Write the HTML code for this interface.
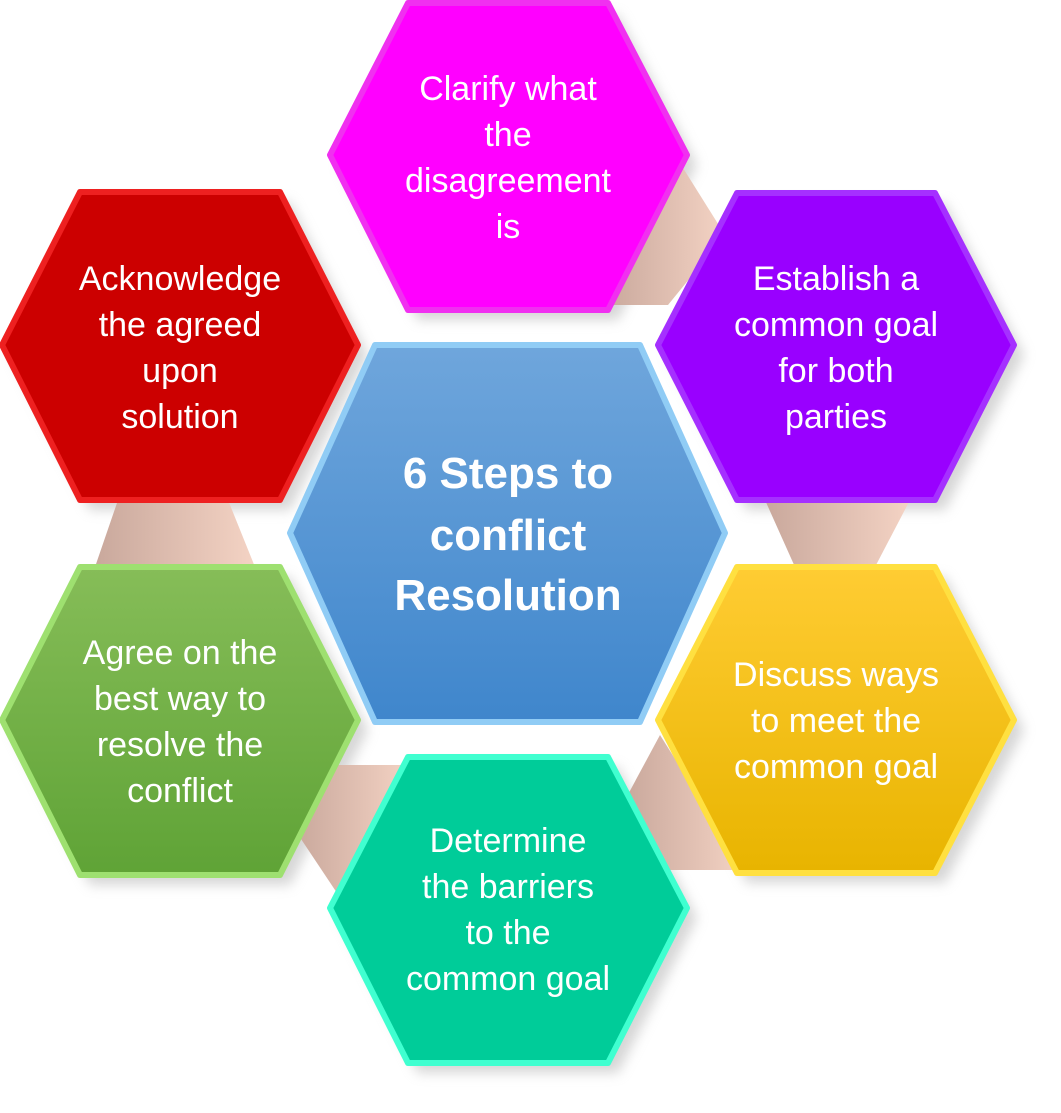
<!DOCTYPE html>
<html><head><style>
html,body{margin:0;padding:0;background:#fff;}
svg{display:block;}
text{font-family:"Liberation Sans",sans-serif;fill:#fff;text-anchor:middle;}
</style></head><body>
<svg width="1061" height="1113" viewBox="0 0 1061 1113">
<defs>
<filter id="sh" x="-20%" y="-20%" width="140%" height="140%"><feGaussianBlur stdDeviation="6"/></filter>
<linearGradient id="con" x1="0" y1="0" x2="1" y2="0"><stop offset="0" stop-color="#c9a89c"/><stop offset="1" stop-color="#f4d3c4"/></linearGradient>
<linearGradient id="gb" x1="0" y1="0" x2="0" y2="1"><stop offset="0" stop-color="#6fa6dc"/><stop offset="1" stop-color="#3f86cc"/></linearGradient>
<linearGradient id="gg" x1="0" y1="0" x2="0" y2="1"><stop offset="0" stop-color="#86bd58"/><stop offset="1" stop-color="#5fa336"/></linearGradient>
<linearGradient id="gy" x1="0" y1="0" x2="0" y2="1"><stop offset="0" stop-color="#ffcc33"/><stop offset="1" stop-color="#e8b400"/></linearGradient>
</defs>
<g fill="#bbb" opacity="0.6" filter="url(#sh)">
<polygon points="340,165 418,15 618,15 697,165 618,320 418,320"/>
<polygon points="668,355 747,203 945,203 1024,355 945,510 747,510"/>
<polygon points="12,355 90,202 290,202 368,355 290,510 90,510"/>
<polygon points="12,730 90,577 290,577 368,730 290,885 90,885"/>
<polygon points="668,730 747,577 945,577 1024,730 945,883 747,883"/>
<polygon points="340,918 418,767 618,767 697,918 618,1073 418,1073"/>
</g>
<g fill="url(#con)">
<polygon points="683,168 725,235 668,305 605,305"/>
<polygon points="765,500 910,500 875,567 795,567"/>
<polygon points="660,735 745,870 665,870 625,800"/>
<polygon points="300,765 410,765 345,905 295,830"/>
<polygon points="118,500 228,500 255,567 95,567"/>
</g>
<g stroke-width="6" stroke-linejoin="round">
<polygon points="330,155 408,3 608,3 687,155 608,310 408,310" fill="#ff00ff" stroke="#f030f0"/>
<polygon points="658,345 737,193 935,193 1014,345 935,500 737,500" fill="#9900ff" stroke="#a530ff"/>
<polygon points="2,345 80,192 280,192 358,345 280,500 80,500" fill="#cc0000" stroke="#ee2020"/>
<polygon points="2,720 80,567 280,567 358,720 280,875 80,875" fill="url(#gg)" stroke="#9ee070"/>
<polygon points="658,720 737,567 935,567 1014,720 935,873 737,873" fill="url(#gy)" stroke="#ffe040"/>
<polygon points="330,908 408,757 608,757 687,908 608,1063 408,1063" fill="#00cc99" stroke="#40ffd0"/>
<polygon points="290,533 375,345 640,345 725,533 640,722 375,722" fill="url(#gb)" stroke="#90ccf5"/>
</g>
<g font-size="34">
<text x="508" y="100">Clarify what</text><text x="508" y="146">the</text><text x="508" y="192">disagreement</text><text x="508" y="238">is</text>
<text x="836" y="290">Establish a</text><text x="836" y="336">common goal</text><text x="836" y="382">for both</text><text x="836" y="428">parties</text>
<text x="180" y="290">Acknowledge</text><text x="180" y="336">the agreed</text><text x="180" y="382">upon</text><text x="180" y="428">solution</text>
<text x="180" y="664">Agree on the</text><text x="180" y="710">best way to</text><text x="180" y="756">resolve the</text><text x="180" y="802">conflict</text>
<text x="836" y="686">Discuss ways</text><text x="836" y="732">to meet the</text><text x="836" y="778">common goal</text>
<text x="508" y="852">Determine</text><text x="508" y="898">the barriers</text><text x="508" y="944">to the</text><text x="508" y="990">common goal</text>
</g>
<g font-size="44" font-weight="bold">
<text x="508" y="488">6 Steps to</text><text x="508" y="550">conflict</text><text x="508" y="610">Resolution</text>
</g>
</svg>
</body></html>
